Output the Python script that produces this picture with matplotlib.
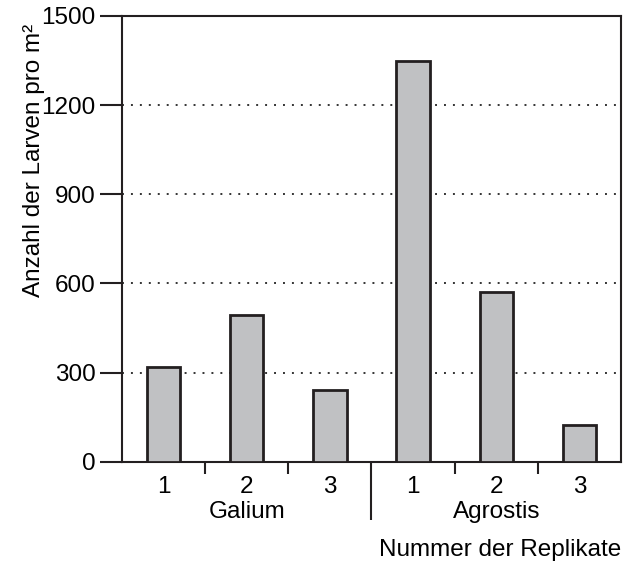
import numpy as np
import matplotlib.pyplot as plt
from matplotlib.transforms import blended_transform_factory

plt.rcParams['font.family'] = ['Liberation Sans', 'DejaVu Sans']

# larvae per m² for each replicate
groups = ["Galium", "Agrostis"]
replicates = ["1", "2", "3", "1", "2", "3"]
larvae = [320, 495, 240, 1350, 570, 123]

yticks = [0, 300, 600, 900, 1200, 1500]
fs = 17.5
ink = "#231f20"

fig = plt.figure(figsize=(6.24, 5.62), dpi=100)
ax = fig.add_axes([122 / 624, 1 - 461.7 / 562, 499 / 624, 445.7 / 562])

x = np.arange(len(larvae))
ax.bar(x, larvae, width=0.4, color="#c0c1c3", edgecolor=ink,
       linewidth=2.0, zorder=3)

# dotted guide lines
for v in yticks[1:-1]:
    ax.axhline(v, color="#333333", linewidth=1.4,
               linestyle=(0, (1, 3.6)), zorder=1)

ax.set_xlim(-0.5, 5.5)
ax.set_ylim(0, 1500)

for side in ax.spines.values():
    side.set_linewidth(1.5)
    side.set_color(ink)

ax.set_yticks(yticks)
ax.set_yticklabels([str(v) for v in yticks], fontsize=fs)
ax.tick_params(axis="y", direction="out", length=15.8, width=1.5,
               color=ink, pad=3.4)

# separators between replicates on the x axis
ax.set_xticks([0.5, 1.5, 2.5, 3.5, 4.5])
ax.set_xticklabels([])
ax.tick_params(axis="x", which="major", direction="out", length=8.5,
               width=1.5, color=ink)
ax.xaxis.get_major_ticks()[2].tick1line.set_markersize(42)

ax.set_xticks(x, minor=True)
ax.set_xticklabels(replicates, minor=True, fontsize=fs)
ax.tick_params(axis="x", which="minor", length=0, pad=10.0)

trans = blended_transform_factory(ax.transData, ax.transAxes)
ax.text(1, -0.113, groups[0], transform=trans, ha="center", va="center",
        fontsize=fs)
ax.text(4, -0.113, groups[1], transform=trans, ha="center", va="center",
        fontsize=fs)
ax.text(1.0, -0.198, "Nummer der Replikate", transform=ax.transAxes,
        ha="right", va="center", fontsize=fs)

ax.set_ylabel("Anzahl der Larven pro m²", fontsize=fs)
ax.yaxis.set_label_coords(-0.154, 0.675)

fig.savefig("out.png", dpi=100)
